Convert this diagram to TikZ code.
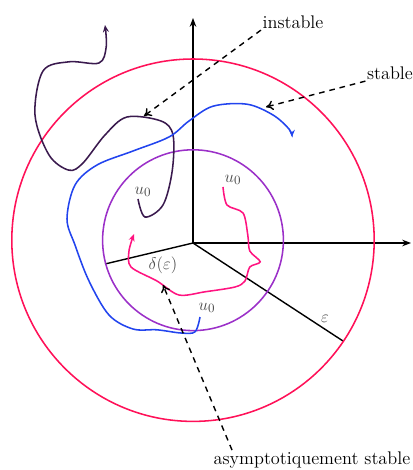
\documentclass[tikz,border=0pt]{standalone}
\usetikzlibrary{arrows.meta, calc}
\definecolor{ballEps}{HTML}{FF1158}
\definecolor{ballDelta}{HTML}{9B30C8}
\definecolor{pathStable}{HTML}{2244EE}
\definecolor{pathUnstable}{HTML}{3A1A4E}
\definecolor{pathAsym}{HTML}{FF1380}
\definecolor{labelgray}{HTML}{4A4A4A}
\tikzset{
  font=\fontsize{13}{15}\selectfont,
  axis/.style={-{Stealth[length=2.2mm]}, line width=1pt, black},
  radius line/.style={line width=1pt, black},
  ball/.style={line width=1.1pt},
  traj/.style={line width=1.1pt, -{Stealth[length=1.8mm, width=1.5mm]}},
  pointer/.style={-{To[length=1.8mm, width=2.4mm]}, dashed, dash pattern=on 4pt off 3.5pt, line width=1pt, black},
  mlabel/.style={text=labelgray, inner sep=1pt},
  tlabel/.style={text=black, inner sep=1pt},
}

\begin{document}
\begin{tikzpicture}
  \useasboundingbox (-4.825,-5.675) rectangle (5.475,6.075);

  % --- axes and radii ---
  \coordinate (O) at (0,0);
  \coordinate (xend) at (5.45,0);
  \coordinate (yend) at (0,5.625);
  \coordinate (deltaend) at (-2.2,-0.525);
  \coordinate (epsend) at (3.75,-2.45);
  \draw[axis] (O) -- (xend);
  \draw[axis] (O) -- (yend);
  \draw[radius line] (O) -- (deltaend);
  \draw[radius line] (O) -- (epsend);

  % --- balls ---
  \draw[ball, ballEps]   (0,0.07) circle (4.53);
  \draw[ball, ballDelta] (0,0.07) circle (2.26);

  % --- trajectories ---
  \draw[traj, pathUnstable] plot[smooth, tension=0.55] coordinates {
    (-1.375,1.1) (-1.2,0.65) (-0.75,0.95) (-0.52,1.8) (-0.5,2.7) (-0.8,3.05)
    (-1.65,3.15) (-2.2,2.7) (-2.75,2.0) (-3.1,1.82) (-3.6,2.2) (-3.95,3.2)
    (-3.75,4.3) (-3.1,4.53) (-2.35,4.5) (-2.17,4.9) (-2.2,5.45)};
  \draw[traj, pathStable] plot[smooth, tension=0.55] coordinates {
    (0.175,-1.85) (0.05,-2.22) (-0.3,-2.25) (-0.9,-2.17) (-1.5,-2.15)
    (-2.1,-1.8) (-2.6,-0.95) (-2.95,-0.05) (-3.15,0.6) (-2.95,1.45)
    (-2.4,1.95) (-1.5,2.3) (-0.6,2.65) (-0.1,3.05) (0.5,3.42) (1.35,3.47)
    (2.0,3.2) (2.4,2.85) (2.475,2.65)};
  \draw[traj, pathAsym] plot[smooth, tension=0.5] coordinates {
    (0.75,1.4) (0.85,0.95) (1.25,0.75) (1.37,0.2) (1.42,-0.2)
    (1.68,-0.47) (1.42,-0.6) (1.3,-0.95) (1.05,-1.1)
    (0.3,-1.22) (-0.35,-1.3) (-0.9,-0.95) (-1.55,-0.6)
    (-1.6,-0.2) (-1.475,0.225)};

  % --- math labels ---
  \node[mlabel] (u0unst) at (-1.25,1.275)  {$u_0$};
  \node[mlabel] (u0asym) at (1.0,1.575)    {$u_0$};
  \node[mlabel] (u0stab) at (0.35,-1.625)  {$u_0$};
  \node[mlabel] (delta)  at (-0.75,-0.55)  {$\delta(\varepsilon)$};
  \node[mlabel] (eps)    at (3.3,-1.9)     {$\varepsilon$};

  % --- text labels and their pointers ---
  \node[tlabel] (unst) at (2.5,5.525)    {instable};
  \node[tlabel] (stab) at (4.925,4.25)   {stable};
  \node[tlabel] (asym) at (2.975,-5.425) {asymptotiquement stable};
  \coordinate (unsttip) at (-1.225,3.175);
  \coordinate (stabtip) at (1.825,3.4);
  \coordinate (asymtip) at (-0.75,-1.05);
  \draw[pointer] (unst.south west) -- (unsttip);
  \draw[pointer] (stab.south west) -- (stabtip);
  \draw[pointer] ($(asym.north west)!0.1!(asym.north east)$) -- (asymtip);
\end{tikzpicture}
\end{document}
